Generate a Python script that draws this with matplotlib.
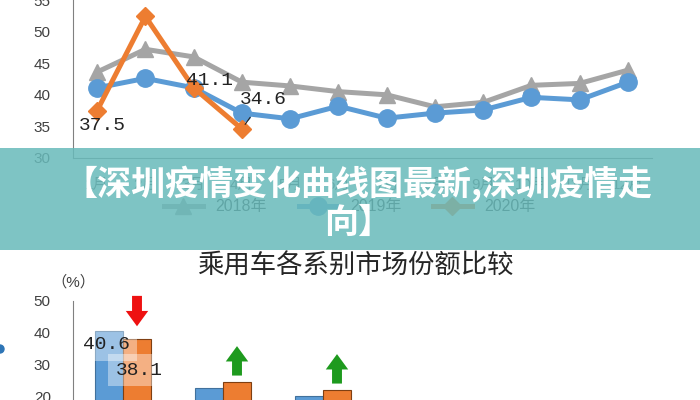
import matplotlib
matplotlib.use('Agg')
import matplotlib.pyplot as plt
from matplotlib.patches import Rectangle, Ellipse

plt.rcParams['font.family'] = ['Liberation Sans', 'Noto Sans CJK SC', 'DejaVu Sans']

# top line chart (monthly values, %)
months = ['1月', '2月', '3月', '4月', '5月', '6月', '7月', '8月', '9月', '10月', '11月', '12月']
series_2018 = [43.6, 47.2, 46.0, 42.0, 41.4, 40.5, 40.0, 38.1, 38.8, 41.5, 41.8, 43.9]
series_2019 = [41.1, 42.6, 41.1, 37.1, 36.2, 38.2, 36.3, 37.1, 37.6, 39.6, 39.2, 42.0]
series_2020 = [37.5, 52.4, 41.1, 34.6]
labelled_2020 = {0: '37.5', 2: '41.1', 3: '34.6'}

# bottom bar chart
groups = ['A', 'B', 'C']
share_before = [40.6, 22.8, 20.3]
share_after = [38.1, 24.7, 22.2]
trend = ['down', 'up', 'up']

title_text = '【深圳疫情变化曲线图最新,深圳疫情走\n向】'
bar_title = '乘用车各系别市场份额比较'

BLUE = '#5b9bd5'
ORANGE = '#ed7d31'
GRAY = '#a5a5a5'

fig = plt.figure(figsize=(7, 4), dpi=100)

# ---- line chart ----
ax1 = fig.add_axes([73 / 700, 1 - 158 / 400, (652 - 73) / 700, 158 / 400])
x12 = list(range(len(months)))
l18, = ax1.plot(x12, series_2018, color=GRAY, lw=3.6, marker='^', ms=12, label='2018年')
l19, = ax1.plot(x12, series_2019, color=BLUE, lw=3.6, marker='o', ms=12.5, label='2019年')
l20, = ax1.plot(range(len(series_2020)), series_2020, color=ORANGE, lw=3.6, marker='D', ms=9.5, label='2020年')
ax1.set_xlim(-0.5, 11.5)
ax1.set_ylim(30, 55)
ax1.set_yticks([30, 35, 40, 45, 50, 55])
ax1.set_xticks(x12)
ax1.set_xticklabels(months)
ax1.tick_params(length=0, labelsize=11, colors='#404040', pad=16)
ax1.tick_params(axis='x', pad=14, colors='#595959')
for s in ['top', 'right']:
    ax1.spines[s].set_visible(False)
for s in ['left', 'bottom']:
    ax1.spines[s].set_color('#808080')

lab_font = dict(family='Liberation Mono', fontsize=14, color='#222222')
ax1.text(0.1, 35.2, labelled_2020[0], ha='center', va='center', **lab_font)
ax1.text(2.32, 42.3, labelled_2020[2], ha='center', va='center', **lab_font)
ax1.annotate(labelled_2020[3], xy=(3, series_2020[3]), xytext=(3.44, 39.3),
             ha='center', va='center', **lab_font,
             arrowprops=dict(arrowstyle='-', color='#222222', lw=0.8, shrinkA=6, shrinkB=4))

ax1.legend(handles=[l18, l19, l20], loc='center', ncol=3, frameon=False,
           bbox_to_anchor=(350 / 700, 1 - 207 / 400), bbox_transform=fig.transFigure,
           fontsize=11.5, handlelength=2.4, columnspacing=2.0, labelcolor='#333333')

# ---- bar chart ----
ax2 = fig.add_axes([73 / 700, 1 - 461 / 400, (652 - 73) / 700, 160 / 400])
xg = list(range(len(groups)))
w = 0.28
ax2.bar([i - w / 2 for i in xg], share_before, width=w, color=BLUE, edgecolor='#41719c', lw=0.8)
ax2.bar([i + w / 2 for i in xg], share_after, width=w, color=ORANGE, edgecolor='#7f3f12', lw=0.8)
ax2.set_xlim(-0.5, 5.29)
ax2.set_ylim(0, 50)
ax2.set_yticks([0, 10, 20, 30, 40, 50])
ax2.set_xticks([])
ax2.tick_params(length=0, labelsize=11, colors='#404040', pad=16)
for s in ['top', 'right', 'bottom']:
    ax2.spines[s].set_visible(False)
ax2.spines['left'].set_color('#808080')

box = dict(boxstyle='square,pad=0.4', facecolor='white', edgecolor='none', alpha=0.4)
ax2.text(-0.17, 36.3, f'{share_before[0]}', ha='center', va='center', bbox=box, **lab_font)
ax2.text(0.16, 28.4, f'{share_after[0]}', ha='center', va='center', bbox=box, **lab_font)

arrow_style = 'simple,head_length=0.65,head_width=0.95,tail_width=0.42'
for i, t in enumerate(trend):
    xa = i + w / 2
    top = share_after[i]
    if t == 'down':
        ax2.annotate('', xy=(xa, top + 4.0), xytext=(xa, top + 13.5), annotation_clip=False,
                     arrowprops=dict(arrowstyle=arrow_style, color='#ee1111', mutation_scale=17,
                                     lw=0, shrinkA=0, shrinkB=0))
    else:
        ax2.annotate('', xy=(xa, top + 11.2), xytext=(xa, top + 2.0), annotation_clip=False,
                     arrowprops=dict(arrowstyle=arrow_style, color='#1e9a1e', mutation_scale=17,
                                     lw=0, shrinkA=0, shrinkB=0))

fig.text(355 / 700, 1 - 266 / 400, bar_title, ha='center', va='center', fontsize=19, color='#262626')
fig.text(73 / 700, 1 - 282 / 400, '（%）', ha='center', va='center', fontsize=11, color='#404040')
fig.add_artist(Ellipse((0, 1 - 349 / 400), 8 / 700, 8 / 400, transform=fig.transFigure, color='#2e75b6'))

# ---- teal banner ----
fig.add_artist(Rectangle((0, 1 - 250 / 400), 1, 102 / 400, transform=fig.transFigure,
                         facecolor='#68baba', edgecolor='none', alpha=0.85, zorder=5))
fig.text(358 / 700, 1 - 203 / 400, title_text, ha='center', va='center', fontsize=24.5,
         fontweight='bold', color='white', linespacing=1.1, zorder=10,
         family=['Noto Sans CJK SC', 'DejaVu Sans'])

fig.savefig('out.png', dpi=100)
